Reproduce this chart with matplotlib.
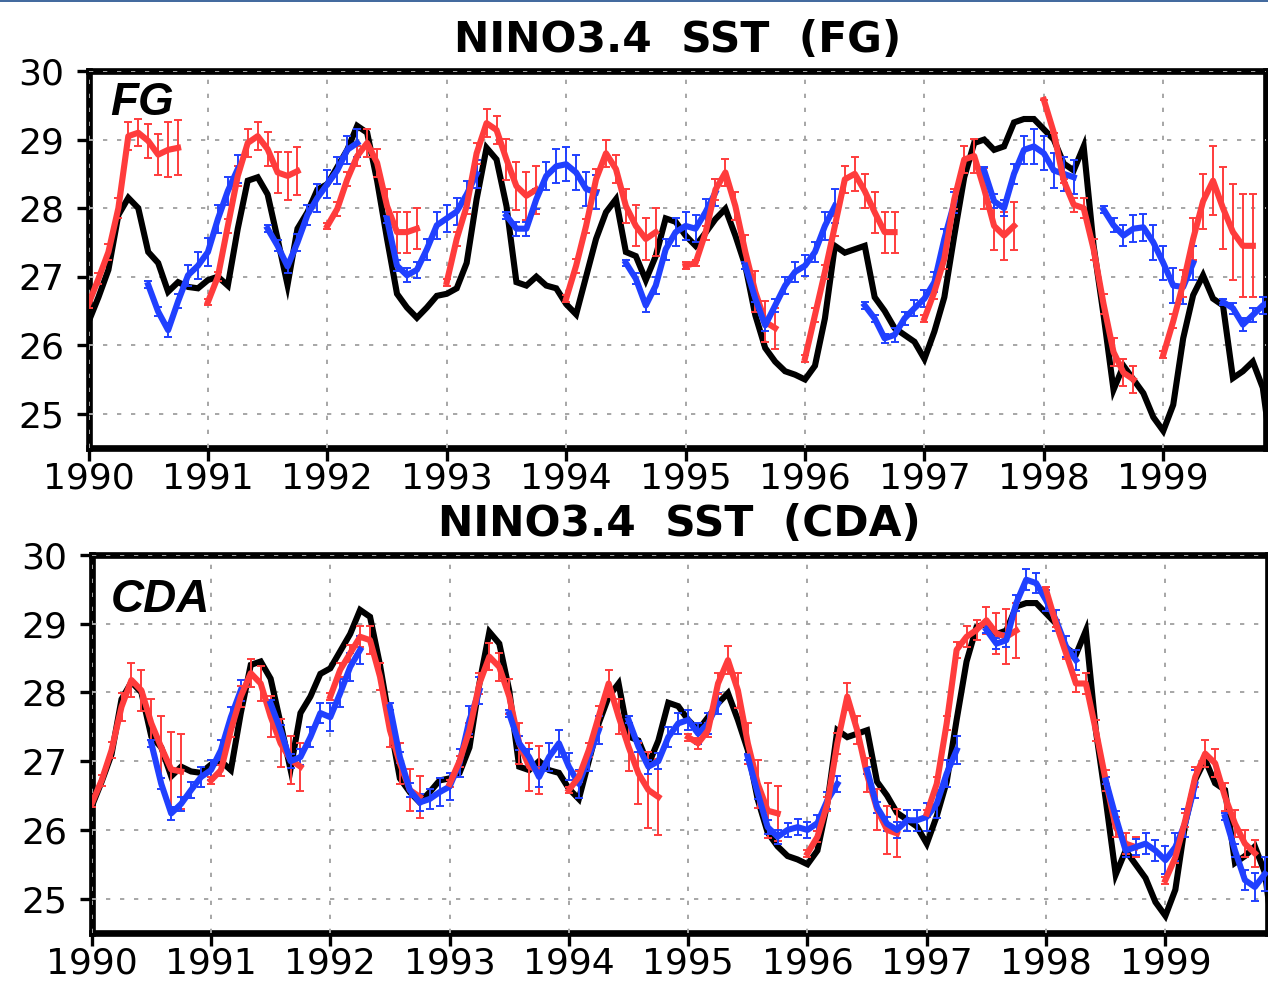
import numpy as np
import matplotlib
matplotlib.use("Agg")
import matplotlib.pyplot as plt
from matplotlib.lines import Line2D

# ---------------- data ----------------
years = list(range(1990, 2000))
y_ticks = [25, 26, 27, 28, 29, 30]

# observed monthly NINO3.4 SST, Jan 1990 .. Dec 1999
obs_sst = [
    26.34, 26.70, 27.10, 27.90, 28.15, 28.00, 27.36, 27.20, 26.78, 26.92, 26.85, 26.83,
    26.95, 27.00, 26.87, 27.70, 28.40, 28.45, 28.20, 27.55, 26.88, 27.70, 27.94, 28.27,
    28.35, 28.60, 28.85, 29.20, 29.10, 28.40, 27.55, 26.75, 26.55, 26.40, 26.55, 26.72,
    26.75, 26.83, 27.20, 28.13, 28.88, 28.71, 28.03, 26.92, 26.87, 27.00, 26.87, 26.83,
    26.60, 26.45, 27.00, 27.55, 27.94, 28.13, 27.36, 27.30, 26.95, 27.30, 27.85, 27.80,
    27.60, 27.45, 27.64, 27.84, 27.99, 27.60, 27.16, 26.44, 25.96, 25.76, 25.62, 25.57,
    25.50, 25.70, 26.39, 27.45, 27.35, 27.40, 27.45, 26.70, 26.50, 26.25, 26.15, 26.05,
    25.80, 26.20, 26.70, 27.60, 28.45, 28.95, 29.00, 28.85, 28.90, 29.25, 29.30, 29.30,
    29.15, 29.00, 28.65, 28.55, 28.90, 27.45, 26.44, 25.35, 25.70, 25.50, 25.30, 24.95,
    24.75, 25.13, 26.10, 26.73, 27.02, 26.68, 26.58, 25.52, 25.62, 25.76, 25.38, 24.30,
]

# forecasts started in January (red) and July (blue) of each year, monthly leads
jan_starts = years
jul_starts = years

fg_red_mean = [
    [26.60, 26.97, 27.36, 28.00, 29.05, 29.10, 28.98, 28.78, 28.85, 28.88],
    [26.63, 27.00, 27.74, 28.47, 28.95, 29.05, 28.86, 28.52, 28.47, 28.54],
    [27.74, 27.99, 28.42, 28.76, 28.95, 28.66, 28.03, 27.65, 27.65, 27.70],
    [26.92, 27.55, 28.03, 28.80, 29.24, 29.14, 28.71, 28.32, 28.18, 28.27],
    [26.68, 27.16, 27.74, 28.42, 28.80, 28.57, 28.03, 27.74, 27.55, 27.65],
    [27.16, 27.20, 27.64, 28.27, 28.52, 28.03, 27.36, 26.78, 26.34, 26.25],
    [25.81, 26.44, 27.07, 27.74, 28.42, 28.50, 28.25, 27.94, 27.65, 27.65],
    [26.39, 26.78, 27.26, 28.13, 28.71, 28.76, 28.28, 27.74, 27.60, 27.74],
    [29.58, 29.10, 28.40, 28.05, 28.00, 27.40, 26.60, 25.90, 25.60, 25.50],
    [25.86, 26.35, 26.90, 27.55, 28.10, 28.40, 28.00, 27.65, 27.45, 27.45],
]
fg_red_err = [
    [0.05, 0.08, 0.12, 0.15, 0.20, 0.20, 0.25, 0.30, 0.40, 0.40],
    [0.05, 0.07, 0.10, 0.15, 0.20, 0.20, 0.25, 0.30, 0.35, 0.35],
    [0.05, 0.10, 0.10, 0.15, 0.20, 0.20, 0.25, 0.30, 0.30, 0.30],
    [0.05, 0.10, 0.12, 0.15, 0.20, 0.20, 0.30, 0.35, 0.35, 0.35],
    [0.05, 0.10, 0.10, 0.15, 0.20, 0.20, 0.25, 0.30, 0.30, 0.35],
    [0.05, 0.05, 0.10, 0.15, 0.20, 0.20, 0.25, 0.30, 0.30, 0.30],
    [0.05, 0.10, 0.10, 0.15, 0.20, 0.25, 0.25, 0.30, 0.30, 0.30],
    [0.05, 0.10, 0.15, 0.15, 0.20, 0.25, 0.30, 0.35, 0.35, 0.35],
    [0.00, 0.00, 0.03, 0.10, 0.15, 0.15, 0.15, 0.20, 0.20, 0.20],
    [0.05, 0.10, 0.20, 0.30, 0.40, 0.50, 0.60, 0.70, 0.75, 0.75],
]
fg_blue_mean = [
    [26.88, 26.49, 26.22, 26.64, 27.02, 27.16, 27.36, 27.84, 28.25, 28.57],
    [27.70, 27.45, 27.15, 27.50, 27.90, 28.15, 28.35, 28.55, 28.85, 28.95],
    [27.84, 27.16, 27.02, 27.10, 27.40, 27.75, 27.85, 27.95, 28.20, 28.50],
    [27.89, 27.70, 27.70, 28.13, 28.47, 28.61, 28.64, 28.52, 28.28, 28.23],
    [27.20, 26.97, 26.58, 26.87, 27.40, 27.65, 27.74, 27.70, 27.94, 28.23],
    [27.16, 26.68, 26.29, 26.58, 26.87, 27.07, 27.16, 27.36, 27.74, 28.03],
    [26.58, 26.39, 26.10, 26.15, 26.39, 26.54, 26.68, 26.92, 27.55, 28.08],
    [28.55, 28.10, 28.00, 28.50, 28.85, 28.90, 28.80, 28.55, 28.50, 28.45],
    [27.98, 27.75, 27.60, 27.70, 27.72, 27.50, 27.20, 26.87, 26.85, 27.20],
    [26.63, 26.54, 26.30, 26.44, 26.58, 26.65],
]
fg_blue_err = [
    [0.05, 0.07, 0.10, 0.10, 0.15, 0.20, 0.20, 0.20, 0.20, 0.20],
    [0.05, 0.08, 0.10, 0.12, 0.15, 0.20, 0.20, 0.20, 0.20, 0.20],
    [0.05, 0.08, 0.10, 0.12, 0.15, 0.20, 0.20, 0.20, 0.20, 0.20],
    [0.05, 0.10, 0.10, 0.15, 0.20, 0.25, 0.25, 0.25, 0.25, 0.25],
    [0.05, 0.08, 0.10, 0.12, 0.15, 0.20, 0.20, 0.20, 0.20, 0.20],
    [0.05, 0.05, 0.08, 0.10, 0.12, 0.15, 0.15, 0.15, 0.20, 0.25],
    [0.05, 0.05, 0.07, 0.10, 0.10, 0.12, 0.12, 0.15, 0.15, 0.15],
    [0.05, 0.10, 0.12, 0.15, 0.20, 0.25, 0.25, 0.25, 0.25, 0.25],
    [0.05, 0.10, 0.15, 0.20, 0.20, 0.25, 0.25, 0.25, 0.25, 0.25],
    [0.05, 0.08, 0.10, 0.10, 0.12, 0.12],
]

cda_red_mean = [
    [26.38, 26.72, 27.16, 27.79, 28.18, 28.03, 27.55, 27.20, 26.88, 26.85],
    [26.72, 26.87, 27.45, 27.94, 28.28, 28.13, 27.65, 27.26, 27.02, 26.92],
    [27.94, 28.33, 28.57, 28.81, 28.76, 28.23, 27.45, 26.97, 26.58, 26.48],
    [26.67, 27.00, 27.45, 28.13, 28.52, 28.37, 27.94, 27.26, 26.92, 26.87],
    [26.58, 26.77, 27.16, 27.65, 28.13, 27.65, 27.21, 26.82, 26.58, 26.48],
    [27.35, 27.26, 27.45, 28.13, 28.47, 28.03, 27.26, 26.67, 26.28, 26.24],
    [25.66, 25.90, 26.38, 27.26, 27.94, 27.45, 26.80, 26.30, 26.00, 25.95],
    [26.24, 26.67, 27.55, 28.62, 28.81, 28.91, 29.05, 28.86, 28.81, 28.90],
    [29.49, 29.00, 28.57, 28.13, 28.13, 27.45, 26.72, 26.04, 25.80, 25.75],
    [25.27, 25.60, 26.14, 26.77, 27.11, 26.97, 26.48, 26.09, 25.80, 25.66],
]
cda_red_err = [
    [0.05, 0.08, 0.12, 0.20, 0.25, 0.30, 0.35, 0.45, 0.55, 0.55],
    [0.05, 0.08, 0.10, 0.15, 0.20, 0.25, 0.30, 0.35, 0.35, 0.35],
    [0.05, 0.10, 0.12, 0.15, 0.20, 0.20, 0.25, 0.30, 0.30, 0.30],
    [0.05, 0.08, 0.10, 0.15, 0.20, 0.20, 0.25, 0.30, 0.35, 0.35],
    [0.05, 0.08, 0.10, 0.15, 0.20, 0.25, 0.35, 0.45, 0.55, 0.55],
    [0.05, 0.08, 0.10, 0.15, 0.20, 0.25, 0.30, 0.35, 0.40, 0.40],
    [0.05, 0.08, 0.10, 0.15, 0.20, 0.20, 0.25, 0.30, 0.35, 0.35],
    [0.05, 0.10, 0.10, 0.12, 0.15, 0.15, 0.20, 0.30, 0.40, 0.40],
    [0.05, 0.05, 0.08, 0.12, 0.15, 0.15, 0.15, 0.15, 0.15, 0.15],
    [0.05, 0.08, 0.10, 0.15, 0.20, 0.20, 0.20, 0.20, 0.20, 0.20],
]
cda_blue_mean = [
    [27.26, 26.67, 26.24, 26.38, 26.58, 26.77, 26.87, 27.16, 27.64, 28.03],
    [27.84, 27.45, 27.00, 27.06, 27.35, 27.70, 27.64, 27.99, 28.37, 28.62],
    [27.79, 27.06, 26.58, 26.40, 26.45, 26.55, 26.63, 26.97, 27.60, 28.03],
    [27.69, 27.26, 27.06, 26.77, 27.06, 27.26, 26.92, 26.67, 27.06, 27.45],
    [27.60, 27.21, 26.92, 27.00, 27.35, 27.55, 27.60, 27.40, 27.55, 27.84],
    [27.06, 26.53, 26.04, 25.90, 26.00, 26.04, 26.00, 26.10, 26.43, 26.67],
    [26.87, 26.33, 26.09, 26.00, 26.14, 26.14, 26.19, 26.38, 26.82, 27.16],
    [28.91, 28.71, 28.76, 29.30, 29.64, 29.59, 29.34, 29.05, 28.67, 28.47],
    [26.72, 26.19, 25.70, 25.75, 25.80, 25.70, 25.56, 25.75, 26.10, 26.67],
    [26.19, 25.70, 25.27, 25.17, 25.36],
]
cda_blue_err = [
    [0.05, 0.08, 0.10, 0.10, 0.12, 0.15, 0.15, 0.15, 0.15, 0.15],
    [0.05, 0.08, 0.10, 0.12, 0.15, 0.15, 0.20, 0.20, 0.20, 0.20],
    [0.05, 0.08, 0.10, 0.12, 0.15, 0.20, 0.20, 0.20, 0.20, 0.20],
    [0.05, 0.10, 0.12, 0.15, 0.20, 0.20, 0.20, 0.20, 0.20, 0.20],
    [0.05, 0.08, 0.10, 0.12, 0.15, 0.15, 0.15, 0.15, 0.15, 0.15],
    [0.05, 0.08, 0.10, 0.10, 0.10, 0.12, 0.12, 0.12, 0.12, 0.12],
    [0.05, 0.08, 0.10, 0.12, 0.15, 0.15, 0.20, 0.20, 0.20, 0.20],
    [0.05, 0.08, 0.10, 0.12, 0.15, 0.15, 0.15, 0.15, 0.15, 0.15],
    [0.05, 0.08, 0.10, 0.12, 0.15, 0.15, 0.20, 0.20, 0.20, 0.20],
    [0.05, 0.10, 0.15, 0.20, 0.25],
]

panels = [
    ("NINO3.4  SST  (FG)", "FG", fg_red_mean, fg_red_err, fg_blue_mean, fg_blue_err),
    ("NINO3.4  SST  (CDA)", "CDA", cda_red_mean, cda_red_err, cda_blue_mean, cda_blue_err),
]

# ---------------- style ----------------
RED = "#ff3c3c"
BLUE = "#2040ff"
GRID = "#a6a6a6"

fig = plt.figure(figsize=(12.68, 9.81), dpi=100)
fig.add_artist(Line2D([0, 1], [0.9992, 0.9992], transform=fig.transFigure,
                      color="#1f4e8c", lw=1.2))

axes_rects = [
    [0.0698, 0.5433, 0.9286, 0.3843],
    [0.0723, 0.0489, 0.9277, 0.3854],
]
title_pads = [13.5, 14.0]
label_y = [0.883, 0.849]
label_x = [0.018, 0.016]

obs_t = 1990 + np.arange(len(obs_sst)) / 12.0

for p, (title, tag, rmean, rerr, bmean, berr) in enumerate(panels):
    ax = fig.add_axes(axes_rects[p])
    ax.set_xlim(1990, 1999.86)
    ax.set_ylim(24.5, 30)

    # grid drawn over the frame (dotted look on the spines)
    for yr in years:
        ax.axvline(yr, color=GRID, lw=1.4, ls=(0, (2.2, 5.0)), zorder=2.6)
    for yv in y_ticks:
        ax.axhline(yv, color=GRID, lw=1.4, ls=(0, (2.2, 5.0)), zorder=2.6)

    ax.plot(obs_t, obs_sst, color="black", lw=4.4, zorder=3,
            solid_joinstyle="miter")

    segs = []
    for i, y0 in enumerate(jan_starts):
        segs.append((y0 + 0.0, rmean[i], rerr[i], RED))
    for i, y0 in enumerate(jul_starts):
        segs.append((y0 + 0.5, bmean[i], berr[i], BLUE))
    segs.sort(key=lambda s: s[0])
    for k, (t0, m, e, c) in enumerate(segs):
        tt = t0 + np.arange(len(m)) / 12.0
        ax.errorbar(tt, m, yerr=e, color=c, lw=4.4, elinewidth=1.4,
                    capsize=3.0, capthick=1.4, zorder=4 + 0.01 * k)

    for s in ax.spines.values():
        s.set_linewidth(4.8)
        s.set_zorder(2.5)

    ax.set_xticks(years)
    ax.set_xticklabels([str(y) for y in years])
    ax.set_yticks(y_ticks)
    ax.set_yticklabels([str(v) for v in y_ticks])
    ax.tick_params(axis="both", direction="out", length=9.0, width=2.4,
                   labelsize=26)
    ax.tick_params(axis="x", pad=1.0)
    ax.tick_params(axis="y", pad=8.5)
    for lab in ax.get_xticklabels() + ax.get_yticklabels():
        lab.set_family("DejaVu Sans")

    ax.set_title(title, fontsize=30.5, fontweight="bold",
                 family="DejaVu Sans", pad=title_pads[p])
    ax.text(label_x[p], label_y[p], tag, transform=ax.transAxes,
            fontsize=33, fontweight="bold", fontstyle="italic",
            family="Liberation Sans", va="baseline", ha="left", zorder=10)

fig.savefig("out.png", dpi=100)
